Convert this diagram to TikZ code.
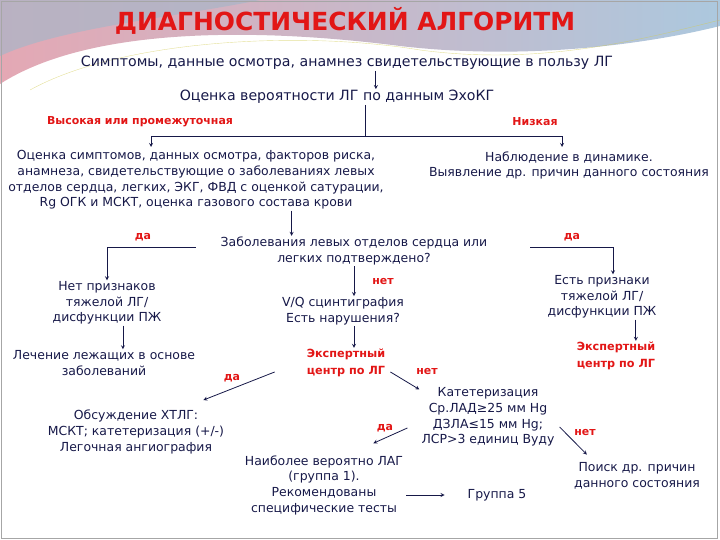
\documentclass[tikz,border=0pt]{standalone}
\usepackage{fontspec}
\setmainfont{DejaVu Sans}
\usepackage{tikz}
\usetikzlibrary{arrows, calc}
\definecolor{ink}{RGB}{22,24,72}
\definecolor{alarm}{RGB}{226,22,22}
\definecolor{wavepink}{RGB}{228,168,180}
\definecolor{waveblue}{RGB}{172,200,222}
\definecolor{wavegray}{RGB}{168,182,200}

\begin{document}
\begin{tikzpicture}[x=1bp, y=-1bp]

\tikzstyle{txt} = [text=ink, align=center, inner sep=1pt, font=\fontsize{12.5}{15.7}\selectfont]
\tikzstyle{bigtxt} = [text=ink, align=center, inner sep=1pt, font=\fontsize{14.2}{17}\selectfont]
\tikzstyle{redtxt} = [text=alarm, align=center, inner sep=1pt, font=\bfseries\fontsize{11.3}{17}\selectfont]
\tikzstyle{lbl} = [text=alarm, inner sep=1pt, font=\bfseries\fontsize{11}{13}\selectfont]
\tikzstyle{arrow} = [thick,->,>=stealth, draw=ink]
\tikzstyle{line} = [thick, draw=ink]

\useasboundingbox (0,0) rectangle (720,540);
% slide background
\shade [left color=wavepink, middle color=white!80!wavepink, right color=waveblue]
  (0,0) -- (720,0) -- (720,26) .. controls (640,46) and (520,60) .. (400,46)
  .. controls (260,28) and (90,26) .. (0,84) -- cycle;
\fill [wavegray, opacity=0.7] (0,0) -- (260,0) .. controls (170,18) and (60,28) .. (0,56) -- cycle;
\draw [yellow!60!gray, opacity=0.6] (30,90) .. controls (120,40) and (300,30) .. (420,50) .. controls (540,66) and (640,40) .. (720,20);
\draw [gray!70] (1.5,1.5) rectangle (717,538);

\node (title) [text=alarm, font=\bfseries\fontsize{25}{30}\selectfont] at (345,21) {ДИАГНОСТИЧЕСКИЙ АЛГОРИТМ};

\node (symp) [bigtxt] at (347,63) {Симптомы, данные осмотра, анамнез свидетельствующие в пользу ЛГ};
\node (echo) [bigtxt] at (337,97) {Оценка вероятности ЛГ по данным ЭхоКГ};
\node (high) [lbl] at (140,122) {Высокая или промежуточная};
\node (low) [lbl] at (535,122) {Низкая};
\node (eval) [txt] at (196,180) {Оценка симптомов, данных осмотра, факторов риска,\\анамнеза, свидетельствующие о заболеваниях левых\\отделов сердца, легких, ЭКГ, ФВД с оценкой сатурации,\\Rg ОГК и МСКТ, оценка газового состава крови};
\node (watch) [txt] at (569,165.5) {Наблюдение в динамике.\\Выявление др. причин данного состояния};
\node (left) [txt] at (354,251) {Заболевания левых отделов сердца или\\легких подтверждено?};
\node (yes1) [lbl] at (143,237) {да};
\node (yes2) [lbl] at (572,237) {да};
\node (no1) [lbl] at (383,282) {нет};
\node (nosev) [txt] at (107,303) {Нет признаков\\тяжелой ЛГ/\\дисфункции ПЖ};
\node (treat) [txt] at (104,363) {Лечение лежащих в основе\\заболеваний};
\node (sev) [txt] at (602,297) {Есть признаки\\тяжелой ЛГ/\\дисфункции ПЖ};
\node (exp2) [redtxt] at (616,356) {Экспертный\\центр по ЛГ};
\node (vq) [txt] at (343,311) {V/Q сцинтиграфия\\Есть нарушения?};
\node (exp1) [redtxt] at (346,363) {Экспертный\\центр по ЛГ};
\node (yes3) [lbl] at (232,378) {да};
\node (no2) [lbl] at (427,372) {нет};
\node (cteph) [txt] at (136,432) {Обсуждение ХТЛГ:\\МСКТ; катетеризация (+/-)\\Легочная ангиография};
\node (cath) [txt] at (488,417) {Катетеризация\\Ср.ЛАД≥25 мм Hg\\ДЗЛА≤15 мм Hg;\\ЛСР>3 единиц Вуду};
\node (yes4) [lbl] at (385,428) {да};
\node (no3) [lbl] at (585,433) {нет};
\node (other) [txt] at (637,476) {Поиск др. причин\\данного состояния};
\node (pah) [txt] at (324,485) {Наиболее вероятно ЛАГ\\(группа 1).\\Рекомендованы\\специфические тесты};
\node (g5) [txt] at (497,495) {Группа 5};

\coordinate (s1) at (365,136);
\coordinate (a1) at (151,147);
\coordinate (a2) at (562,147);

\draw [arrow] ([xshift=39]symp.south -| echo.north) -- ([xshift=39]echo.north);
\draw [line] (echo.south -| s1) -- (s1);
\draw [arrow] (s1) -| (a1);
\draw [arrow] (s1) -| (a2);
\draw [arrow] ([xshift=96]eval.south) -- ([xshift=96]eval.south |- left.north);
\draw [arrow] ([xshift=-24,yshift=4]left.west) -| (nosev.north);
\draw [arrow] ([xshift=42,yshift=4]left.east) -| ([xshift=11]sev.north);
\draw [arrow] ([xshift=16]nosev.south) -- ([xshift=16]nosev.south |- treat.north);
\draw [arrow] (left.south) -- (left.south |- vq.north);
\draw [arrow] (vq.south -| left.south) -- (exp1.north -| left.south);
\draw [arrow] ([xshift=34]sev.south) -- ([xshift=34]sev.south |- exp2.north);
\draw [arrow] ([xshift=-31,yshift=-9]exp1.west) -- ([xshift=-22,yshift=9]cteph.north east);
\draw [arrow] ([xshift=4,yshift=-9]exp1.east) -- ([xshift=-1,yshift=-3]cath.north west);
\draw [arrow] ([xshift=-13,yshift=-11]cath.west) -- ([xshift=-31,yshift=11]pah.north east);
\draw [arrow] ([xshift=4,yshift=-10]cath.east) -- ([xshift=14,yshift=7]other.north west);
\draw [arrow] ([xshift=2]pah.east |- g5.west) -- ([xshift=-22]g5.west);

\end{tikzpicture}
\end{document}
